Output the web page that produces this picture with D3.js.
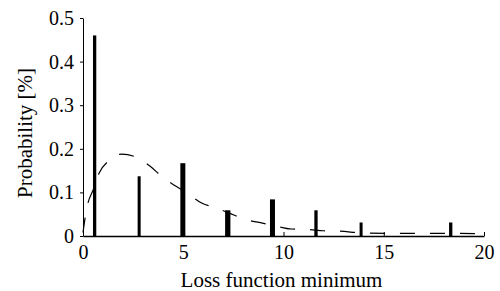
<!DOCTYPE html>
<html>
<head>
<meta charset="utf-8">
<script src="https://cdn.jsdelivr.net/npm/d3@7"></script>
<style>
  html, body { margin: 0; padding: 0; background: #fff; }
  svg { display: block; }
  svg text { font-family: "Liberation Serif", "Times New Roman", serif !important; fill: #000; }
</style>
</head>
<body>
<svg id="chart" width="500" height="291"></svg>
<script>
// ---- data ----
const barX      = [0.58, 2.80, 4.98, 7.22, 9.45, 11.62, 13.87, 18.34];
const barValues = [0.46, 0.137, 0.167, 0.059, 0.084, 0.059, 0.031, 0.031];
const curveX    = [0, 0.1, 0.25, 0.5, 0.8, 1.27, 1.94, 2.68, 3.35, 3.94, 4.6, 5.27, 5.94, 6.6, 7.27, 8.1, 8.9, 9.6, 10.4, 11.2, 12.0, 12.8, 14.0, 16.0, 18.0, 20.0];
const curveY    = [0.008, 0.04, 0.076, 0.105, 0.144, 0.172, 0.188, 0.180, 0.160, 0.136, 0.115, 0.096, 0.075, 0.065, 0.053, 0.038, 0.030, 0.023, 0.016, 0.015, 0.012, 0.011, 0.007, 0.006, 0.006, 0.005];
const xTicks    = [0, 5, 10, 15, 20];
const yTicks    = [0, 0.1, 0.2, 0.3, 0.4, 0.5];
const xTitle    = "Loss function minimum";
const yTitle    = "Probability [%]";

// ---- styles (not data) ----
const barWidths = [3.3, 3, 5, 5.3, 5, 3.3, 3, 3.3];
const serif = "'Liberation Serif', 'Times New Roman', serif";

const svg = d3.select("#chart");
const x = d3.scaleLinear().domain([0, 20]).range([83, 484]);
const y = d3.scaleLinear().domain([0, 0.5]).range([236, 18]);

// bars
svg.append("g").selectAll("rect")
  .data(barX.map((v, i) => ({x: v, y: barValues[i], w: barWidths[i]})))
  .join("rect")
  .attr("x", d => x(d.x) - d.w / 2)
  .attr("width", d => d.w)
  .attr("y", d => y(d.y))
  .attr("height", d => y(0) - y(d.y))
  .attr("fill", "#000");

// dashed curve
const line = d3.line()
  .x(d => x(d[0]))
  .y(d => y(d[1]))
  .curve(d3.curveMonotoneX);
svg.append("path")
  .datum(curveX.map((v, i) => [v, curveY[i]]))
  .attr("d", line)
  .attr("fill", "none")
  .attr("stroke", "#000")
  .attr("stroke-width", 1.2)
  .attr("stroke-dasharray", "15,15");

// x axis
const xAxis = svg.append("g")
  .attr("transform", `translate(0,${y(0)})`)
  .call(d3.axisBottom(x).tickValues(xTicks).tickFormat(d3.format("d"))
        .tickSizeInner(-4).tickSizeOuter(0).tickPadding(9));
xAxis.attr("font-family", serif).attr("font-size", 20);
xAxis.select(".domain").attr("stroke-width", 1.5);

// y axis
const yAxis = svg.append("g")
  .attr("transform", `translate(${x(0)},0)`)
  .call(d3.axisLeft(y).tickValues(yTicks).tickFormat(d => d === 0 ? "0" : d3.format(".1f")(d))
        .tickSizeInner(3).tickSizeOuter(0).tickPadding(6));
yAxis.attr("font-family", serif).attr("font-size", 20);

// titles
svg.append("text")
  .attr("x", 281.5).attr("y", 287)
  .attr("text-anchor", "middle")
  .attr("font-family", serif)
  .attr("font-size", 21)
  .text(xTitle);

svg.append("text")
  .attr("transform", "translate(32,133) rotate(-90)")
  .attr("text-anchor", "middle")
  .attr("font-family", serif)
  .attr("font-size", 21)
  .text(yTitle);
</script>
</body>
</html>
